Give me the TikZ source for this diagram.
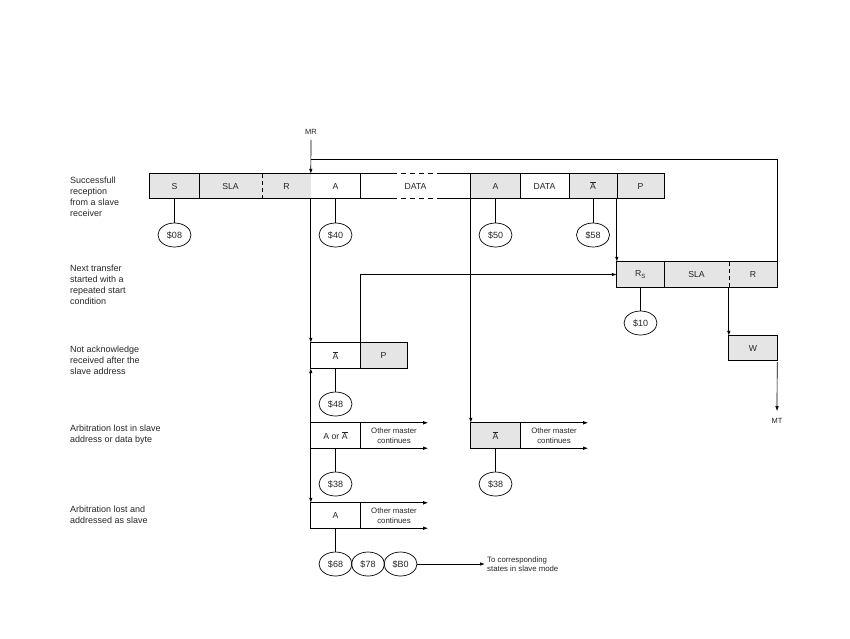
\documentclass[tikz,border=0pt]{standalone}
\usepackage{fontspec}
\setmainfont{Liberation Sans}
\usetikzlibrary{arrows.meta,shapes.geometric}
\begin{document}
\begin{tikzpicture}[x=1pt,y=-1pt,
  cell/.style={rectangle, inner sep=0pt, minimum height=24pt, text=black!85, font=\fontsize{8.7}{10}\selectfont},
  gcell/.style={cell, fill=gray!20},
  st/.style={ellipse, draw, line width=0.7pt, minimum width=33pt, minimum height=24pt, inner sep=0pt, text=black!85, font=\fontsize{9}{10}\selectfont},
  lbl/.style={anchor=west, align=left, inner sep=0pt, text=black!85, font=\fontsize{9}{11}\selectfont},
  omtext/.style={align=center, inner sep=0pt, text=black!85, font=\fontsize{7.8}{9.5}\selectfont},
  tag/.style={inner sep=1pt, text=black!85, font=\fontsize{7.5}{9}\selectfont},
  ln/.style={line width=0.7pt},
  arr/.style={ln, -{Latex[length=5pt,width=3.5pt]}},
  dsh/.style={ln, dash pattern=on 4pt off 3pt},
]
\useasboundingbox (0,0) rectangle (850,638);

% left labels
\node[lbl] (l1) at (70,196.5) {Successfull\\reception\\from a slave\\receiver};
\node[lbl] (l2) at (70,284.5) {Next transfer\\started with a\\repeated start\\condition};
\node[lbl] (l3) at (70,360) {Not acknowledge\\received after the\\slave address};
\node[lbl] (l4) at (70,434.5) {Arbitration lost in slave\\address or data byte};
\node[lbl] (l5) at (70,514.5) {Arbitration lost and\\addressed as slave};

% row 1
\node[gcell, minimum width=49pt] (s) at (174.5,186) {S};
\node[gcell, minimum width=63pt] (sla) at (230.5,186) {SLA};
\node[gcell, minimum width=49pt] (r) at (286.5,186) {R};
\node[cell, minimum width=49pt] (a) at (335.5,186) {A};
\node[cell, minimum width=111pt] (data) at (415.5,186) {DATA};
\node[gcell, minimum width=49pt] (a2) at (495.5,186) {A};
\node[cell, minimum width=49pt] (data2) at (544.5,186) {DATA};
\node[gcell, minimum width=48pt] (nab) at (593,186) {$\overline{\hbox{A}}$};
\node[gcell, minimum width=47pt] (p) at (640.5,186) {P};
\draw[ln] (s.north west) rectangle (a.south east);
\draw[ln] (a2.north west) rectangle (p.south east);
\draw[ln] (s.north east) -- (s.south east);
\draw[dsh] (sla.north east) -- (sla.south east);
\draw[ln] (a2.north east) -- (a2.south east);
\draw[ln] (data2.north east) -- (data2.south east);
\draw[ln] (nab.north east) -- (nab.south east);
\draw[ln] (data.north west) -- ++(32,0) coordinate (dt1);
\draw[ln, dash pattern=on 5pt off 4pt] (dt1) -- ++(48,0) coordinate (dt2);
\draw[ln] (dt2) -- (data.north east);
\draw[ln] (data.south west) -- ++(32,0) coordinate (db1);
\draw[ln, dash pattern=on 5pt off 4pt] (db1) -- ++(48,0) coordinate (db2);
\draw[ln] (db2) -- (data.south east);

\node[st] (e08) at (174.5,235) {\$08};
\node[st] (e40) at (335.5,235) {\$40};
\node[st] (e50) at (495.5,235) {\$50};
\node[st] (e58) at (593,235) {\$58};
\draw[ln] (s.south) -- (e08.north);
\draw[ln] (a.south) -- (e40.north);
\draw[ln] (a2.south) -- (e50.north);
\draw[ln] (nab.south) -- (e58.north);

% row 2
\node[gcell, minimum width=47pt, minimum height=25pt] (rs) at (640.5,274.5) {R\textsubscript{S}};
\node[gcell, minimum width=65pt, minimum height=25pt] (sla2) at (696.5,274.5) {SLA};
\node[gcell, minimum width=48pt, minimum height=25pt] (r2) at (753,274.5) {R};
\draw[ln] (rs.north west) rectangle (r2.south east);
\draw[ln] (rs.north east) -- (rs.south east);
\draw[dsh] (sla2.north east) -- (sla2.south east);
\node[st] (e10) at (640.5,323) {\$10};
\draw[ln] (rs.south) -- (e10.north);

% W box
\node[gcell, minimum width=48pt] (w) at (753,348) {W};
\draw[ln] (w.north west) rectangle (w.south east);

% row 3
\node[cell, minimum width=49pt, minimum height=25pt] (nb) at (335.5,355.5) {$\overline{\hbox{A}}$};
\node[gcell, minimum width=47pt, minimum height=25pt] (p3) at (383.5,355.5) {P};
\draw[ln] (nb.north west) rectangle (p3.south east);
\draw[ln] (nb.north east) -- (nb.south east);
\node[st] (e48) at (335.5,404) {\$48};
\draw[ln] (nb.south) -- (e48.north);

% row 4
\node[cell, minimum width=49pt, minimum height=25pt] (ao) at (335.5,435.5) {A or $\overline{\hbox{A}}$};
\node[omtext, minimum width=68pt, minimum height=25pt] (om1) at (394,435.5) {Other master\\continues};
\draw[ln] (ao.north west) rectangle (ao.south east);
\draw[arr] (ao.north west) -- (om1.north east);
\draw[arr] (ao.south west) -- (om1.south east);
\node[st] (e38a) at (335.5,484) {\$38};
\draw[ln] (ao.south) -- (e38a.north);

\node[gcell, minimum width=49pt, minimum height=25pt] (ab4) at (495.5,435.5) {$\overline{\hbox{A}}$};
\node[omtext, minimum width=68pt, minimum height=25pt] (om2) at (554,435.5) {Other master\\continues};
\draw[ln] (ab4.north west) rectangle (ab4.south east);
\draw[arr] (ab4.north west) -- (om2.north east);
\draw[arr] (ab4.south west) -- (om2.south east);
\node[st] (e38b) at (495.5,484) {\$38};
\draw[ln] (ab4.south) -- (e38b.north);

% row 5
\node[cell, minimum width=49pt, minimum height=25pt] (a5) at (335.5,515.5) {A};
\node[omtext, minimum width=68pt, minimum height=25pt] (om3) at (394,515.5) {Other master\\continues};
\draw[ln] (a5.north west) rectangle (a5.south east);
\draw[arr] (a5.north west) -- (om3.north east);
\draw[arr] (a5.south west) -- (om3.south east);
\node[st] (e68) at (335.5,564) {\$68};
\node[st] (e78) at (368,564) {\$78};
\node[st] (eb0) at (400.5,564) {\$B0};
\draw[ln] (a5.south) -- (e68.north);
\node[omtext, align=left, anchor=west] (tcs) at (487,564) {To corresponding\\states in slave mode};
\draw[arr, shorten >=2pt] (eb0.east) -- (tcs.west);

% MR / MT
\node[tag] (mr) at (311,132) {MR};
\node[tag] (mt) at (777,421) {MT};
\coordinate (j1) at (311,159);
\draw[arr, shorten <=4pt] (mr.south) -- (a.north west);
\draw[ln] (j1) -| (r2.north east);
\draw[arr] (a.south west) -- (nb.north west);
\draw[arr] (ao.north west) -- (nb.south west);
\draw[arr] (ao.south west) -- (a5.north west);
\draw[arr] (p.south west) -- (rs.north west);
\draw[arr] (nb.north east) |- (rs.west);
\draw[arr] (a2.south west) -- (ab4.north west);
\draw[arr] (r2.south west) -- (w.north west);
\draw[arr, shorten <=2pt, shorten >=6pt] (w.south east) -- (mt.north);
\end{tikzpicture}
\end{document}
